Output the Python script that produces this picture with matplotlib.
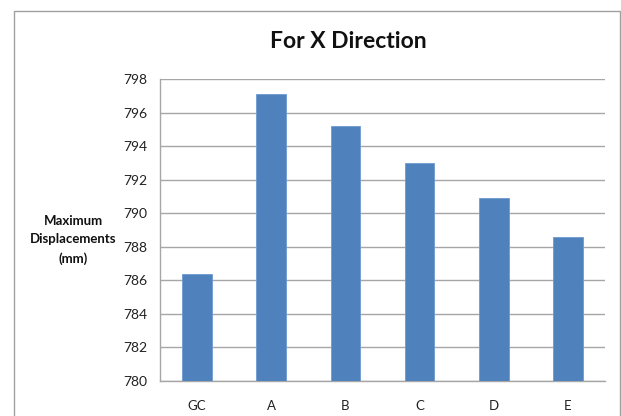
import matplotlib
matplotlib.use('Agg')
import matplotlib.pyplot as plt
from matplotlib.patches import Rectangle

cases = ['GC', 'A', 'B', 'C', 'D', 'E']
max_disp = [786.4, 797.1, 795.2, 793.0, 790.9, 788.6]
y_ticks = [780, 782, 784, 786, 788, 790, 792, 794, 796, 798]

plt.rcParams['font.family'] = ['Lato', 'DejaVu Sans']

fig = plt.figure(figsize=(6.21, 4.16), dpi=100)
fig.patch.set_facecolor('white')

# chart frame
fig.patches.append(Rectangle((14 / 621, -0.02), 606 / 621, 1 - 11 / 416 + 0.02,
                             transform=fig.transFigure, fill=False,
                             edgecolor='#a0a0a0', lw=1.0))

ax = fig.add_axes([160 / 621, 1 - 381 / 416, 445 / 621, 302 / 416])
x = range(len(cases))
ax.bar(x, max_disp, width=0.4, bottom=0, color='#4F81BD', edgecolor='#6f9bd0',
       lw=0.6, zorder=3)
ax.set_ylim(780, 798)
ax.set_xlim(-0.5, len(cases) - 0.5)
ax.set_yticks(y_ticks)
ax.set_xticks(list(x))
ax.set_xticklabels(cases)
ax.tick_params(axis='both', length=0, colors='#222222')
ax.tick_params(axis='y', pad=9, labelsize=10)
ax.tick_params(axis='x', pad=14, labelsize=9.5)
ax.grid(axis='y', color='#a6a6a6', lw=1.0, zorder=0)
for s in ['top', 'right']:
    ax.spines[s].set_visible(False)
for s in ['left', 'bottom']:
    ax.spines[s].set_color('#a6a6a6')
    ax.spines[s].set_linewidth(1.0)

fig.text(348 / 621, 1 - 42 / 416, 'For X Direction', ha='center', va='center',
         fontsize=16.5, fontweight='bold', color='#111111')
fig.text(73 / 621, 1 - 240 / 416, 'Maximum\nDisplacements\n(mm)', ha='center',
         va='center', fontsize=9.5, fontweight='bold', linespacing=1.6,
         color='#111111')

fig.savefig('out.png', dpi=100)
